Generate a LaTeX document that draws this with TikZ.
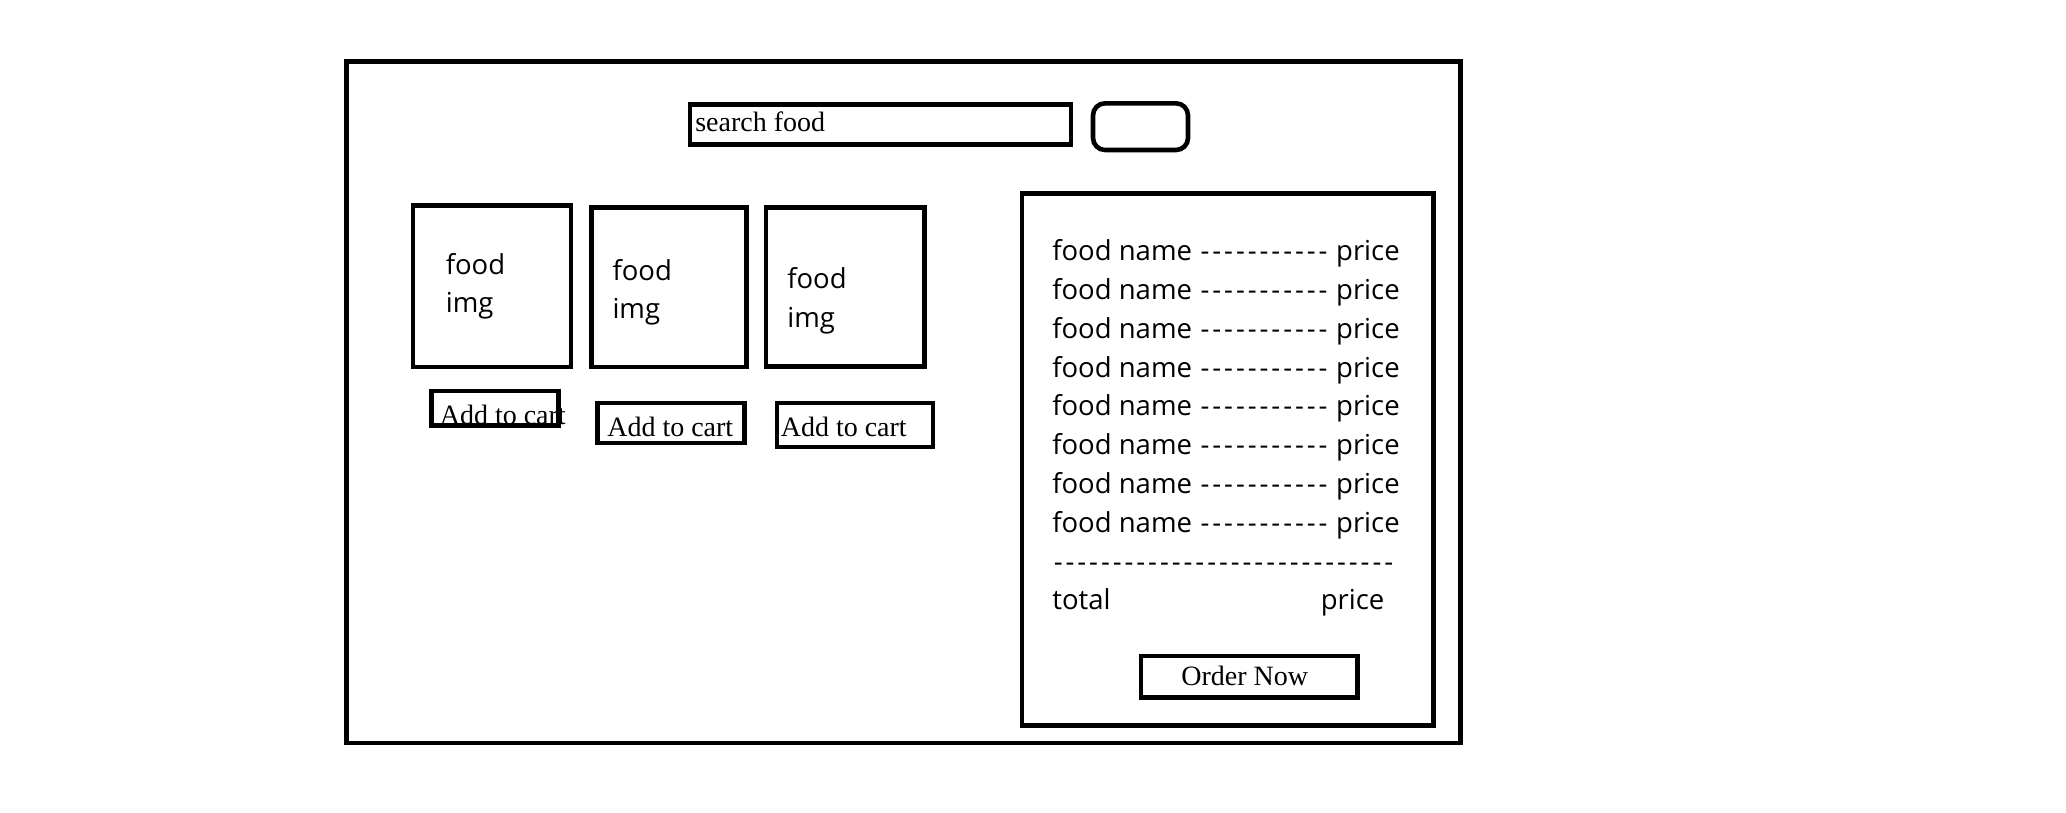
\documentclass[tikz,border=0pt]{standalone}
\usepackage{fontspec}
\setmainfont{Liberation Serif}
\newfontfamily\uifont{Open Sans}
\usetikzlibrary{math}

% a run of evenly spaced hyphens
\newcommand{\dashrun}[1]{\foreach \d in {1,...,#1}{\makebox[11.8pt]{-}}}

\begin{document}
\begin{tikzpicture}[x=1pt,y=-1pt,line width=4.6pt,
  serif/.style={font=\fontsize{28}{34}\selectfont, inner sep=0pt},
  sans/.style={font=\uifont\fontsize{27.5}{38.7}\selectfont, inner sep=0pt, align=left},
  ]

  \tikzmath{
    \rowx   = 1050;   % left edge of the cart rows
    \rowy   = 260.6;  % baseline of the first cart row
    \rowgap = 38.8;   % distance between cart rows
    \pricex = 1318.5; % left edge of the total price
  }

  \useasboundingbox (0,0) rectangle (2066,812);

  % outer page
  \draw (346.3,61.7) rectangle (1460.5,743);

  % search bar and button
  \draw (690,104.3) rectangle (1071,144.3);
  \node[serif, anchor=base west] (search) at (693,131.7) {search food};
  \draw[rounded corners=12pt] (1093,103.3) rectangle (1188,150);

  % food cards: box corners, label position (last line), button corners, button text
  \foreach \n/\ax/\ay/\bx/\by/\tx/\ty/\cx/\cy/\dx/\dy/\ux/\uy in {
      1/413/205.7/571/367/443.5/312.7/431.7/391/558.3/425.7/437.5/424,
      2/591.7/207.7/746.3/367/610.2/318.7/597.7/403/744.3/443/605/436.7,
      3/765.8/207.7/924.2/366.3/785/327.3/776.8/403/933.1/447/778.5/436}{
    \draw (\ax,\ay) rectangle (\bx,\by);
    \node[sans, anchor=base west] (img\n) at (\tx,\ty) {food\\img};
    \draw (\cx,\cy) rectangle (\dx,\dy);
    \node[serif, anchor=base west] (add\n) at (\ux,\uy) {Add to cart};
  }

  % cart panel
  \draw (1022,193.3) rectangle (1433.5,725.5);

  \foreach \i in {0,...,7}{
    \node[sans, anchor=base west] (row\i) at (\rowx,{\rowy+\i*\rowgap})
      {food name \dashrun{11} price};
  }

  \node[sans, anchor=base west] (rule) at (\rowx,{\rowy+8*\rowgap}) {\dashrun{29}};
  \node[sans, anchor=base west] (total) at (\rowx,{\rowy+9*\rowgap}) {total};
  \node[sans, anchor=base west] (sum) at (\pricex,{\rowy+9*\rowgap}) {price};

  % order button
  \draw (1141,656) rectangle (1357.7,697.5);
  \node[serif, anchor=base west] (order) at (1179,685) {Order Now};

\end{tikzpicture}
\end{document}
